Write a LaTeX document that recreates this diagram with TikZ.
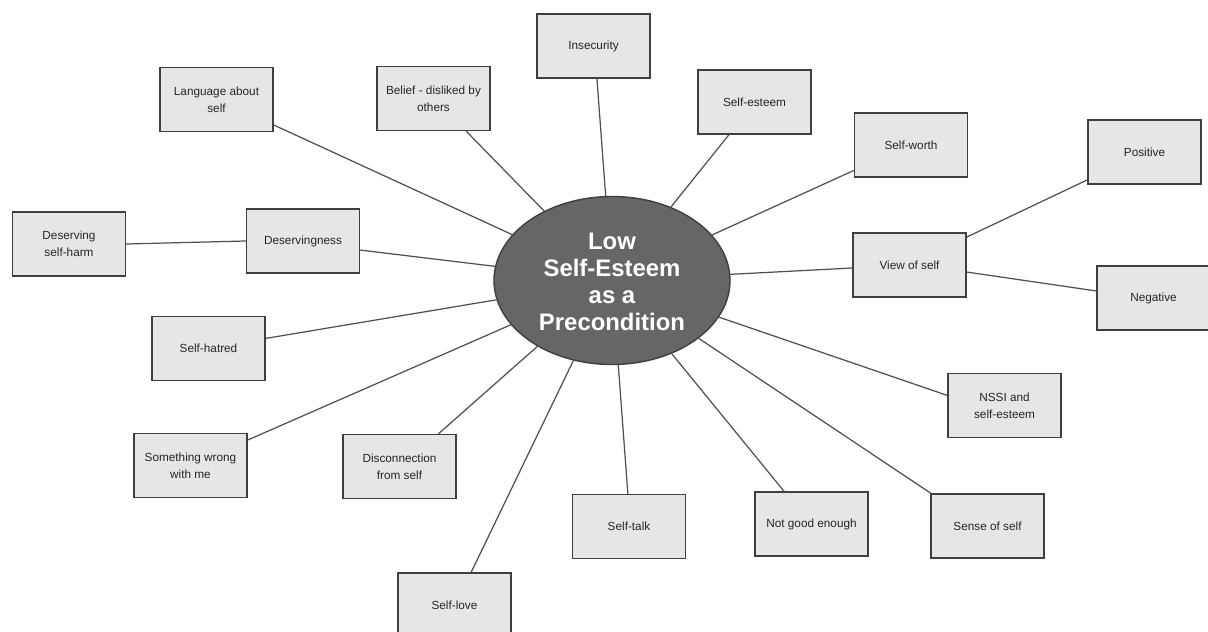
\documentclass[tikz,border=0pt]{standalone}
\usepackage{fontspec}
\setmainfont{Liberation Sans}
\usetikzlibrary{shapes.geometric}
\definecolor{boxfill}{HTML}{E6E6E6}
\definecolor{boxline}{HTML}{3F3F3F}
\definecolor{corefill}{HTML}{666666}
\definecolor{linkline}{HTML}{505050}
\tikzset{
  topic/.style={draw=boxline, fill=boxfill, line width=0.8pt, rectangle,
    minimum width=22.6mm, minimum height=12.8mm, inner sep=0pt, align=center,
    font=\fontsize{6.7}{9.5}\selectfont, text=black!85},
  core/.style={draw=boxline, fill=corefill, line width=0.8pt, ellipse,
    minimum width=47.2mm, minimum height=33.6mm, inner sep=0pt},
  coretext/.style={align=center, text=white,
    font=\fontsize{13.6}{15.3}\selectfont\bfseries},
  link/.style={draw=linkline, line width=0.7pt}
}
\begin{document}
\begin{tikzpicture}[x=0.2mm, y=-0.2mm]
\useasboundingbox (0,0) rectangle (1208,632);
\fill[white] (0,0) rectangle (1208,632);

% central topic
\node[core] (hub) at (612,280.5) {};
\node[coretext] (hubtext) at (612,282) {Low\\Self-Esteem\\as a\\Precondition};

% surrounding topics
\node[topic] (lang)   at (216.5,99.5)  {Language about\\self};
\node[topic] (belief) at (433.5,98.5)  {Belief - disliked by\\others};
\node[topic] (insec)  at (593.5,46)    {Insecurity};
\node[topic] (sesteem) at (754.5,102)  {Self-esteem};
\node[topic] (sworth) at (911,145)     {Self-worth};
\node[topic] (view)   at (909.5,265)   {View of self};
\node[topic] (pos)    at (1144.5,152)  {Positive};
\node[topic] (neg)    at (1153.5,298)  {Negative};
\node[topic] (dsh)    at (69,244)      {Deserving\\self-harm};
\node[topic] (deserv) at (303,241)     {Deservingness};
\node[topic] (hatred) at (208.5,348.5) {Self-hatred};
\node[topic] (wrong)  at (190.5,465.5) {Something wrong\\with me};
\node[topic] (discon) at (399.5,466.5) {Disconnection\\from self};
\node[topic] (slove)  at (454.5,605)   {Self-love};
\node[topic] (stalk)  at (629,526.5)   {Self-talk};
\node[topic] (notgood) at (811.5,524)  {Not good enough};
\node[topic] (sense)  at (987.5,526)   {Sense of self};
\node[topic] (nssi)   at (1004.5,405.5) {NSSI and\\self-esteem};

% links from the hub
\draw[link] (hub) -- (lang.-24);
\draw[link] (hub) -- (belief.-45);
\draw[link] (hub) -- (insec.-84);
\draw[link] (hub) -- (sesteem.-128);
\draw[link] (hub) -- (sworth.204);
\draw[link] (hub) -- (view.183);
\draw[link] (hub) -- (deserv.-9);
\draw[link] (hub) -- (hatred.10);
\draw[link] (hub) -- (wrong.24);
\draw[link] (hub) -- (discon.40);
\draw[link] (hub) -- (slove.63);
\draw[link] (hub) -- (stalk.92);
\draw[link] (hub) -- (notgood.130);
\draw[link] (hub) -- (sense.150);
\draw[link] (hub) -- (nssi.170);

% secondary links
\draw[link] (dsh.east) -- (deserv.west);
\draw[link] (view.26) -- (pos.206);
\draw[link] (view.-7) -- (neg.173);
\end{tikzpicture}
\end{document}
